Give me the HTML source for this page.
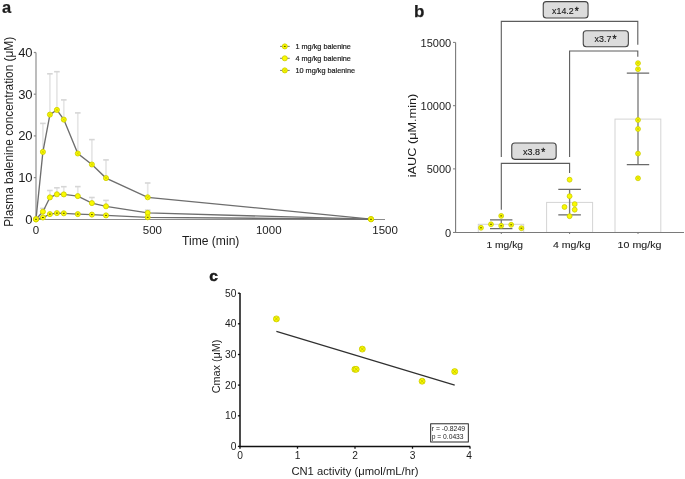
<!DOCTYPE html>
<html><head><meta charset="utf-8"><style>
html,body{margin:0;padding:0;background:#fff;width:685px;height:479px;overflow:hidden}
svg{display:block;will-change:transform}

text{font-family:"Liberation Sans", sans-serif;fill:#1c1c1c}
</style></head><body>
<svg width="685" height="479" viewBox="0 0 685 479">
<path d="M42.9 151.9V123.4" stroke="#e6e6e6" stroke-width="1.7" fill="none"/>
<path d="M40.1 123.4H45.7" stroke="#d6d6d6" stroke-width="1.6" fill="none"/>
<path d="M49.9 114.6V73.8" stroke="#e6e6e6" stroke-width="1.7" fill="none"/>
<path d="M47.1 73.8H52.7" stroke="#d6d6d6" stroke-width="1.6" fill="none"/>
<path d="M56.9 109.9V71.7" stroke="#e6e6e6" stroke-width="1.7" fill="none"/>
<path d="M54.1 71.7H59.7" stroke="#d6d6d6" stroke-width="1.6" fill="none"/>
<path d="M63.8 119.6V99.9" stroke="#e6e6e6" stroke-width="1.7" fill="none"/>
<path d="M61.0 99.9H66.6" stroke="#d6d6d6" stroke-width="1.6" fill="none"/>
<path d="M77.8 153.5V112.9" stroke="#e6e6e6" stroke-width="1.7" fill="none"/>
<path d="M75.0 112.9H80.6" stroke="#d6d6d6" stroke-width="1.6" fill="none"/>
<path d="M91.9 164.5V139.6" stroke="#e6e6e6" stroke-width="1.7" fill="none"/>
<path d="M89.1 139.6H94.7" stroke="#d6d6d6" stroke-width="1.6" fill="none"/>
<path d="M106 178.1V159.9" stroke="#e6e6e6" stroke-width="1.7" fill="none"/>
<path d="M103.2 159.9H108.8" stroke="#d6d6d6" stroke-width="1.6" fill="none"/>
<path d="M147.7 197.3V183.0" stroke="#e6e6e6" stroke-width="1.7" fill="none"/>
<path d="M144.9 183.0H150.5" stroke="#d6d6d6" stroke-width="1.6" fill="none"/>
<path d="M42.9 211.7V208.4" stroke="#e6e6e6" stroke-width="1.7" fill="none"/>
<path d="M40.1 208.4H45.7" stroke="#d6d6d6" stroke-width="1.6" fill="none"/>
<path d="M49.9 197.4V190.5" stroke="#e6e6e6" stroke-width="1.7" fill="none"/>
<path d="M47.1 190.5H52.7" stroke="#d6d6d6" stroke-width="1.6" fill="none"/>
<path d="M56.9 194.3V187.8" stroke="#e6e6e6" stroke-width="1.7" fill="none"/>
<path d="M54.1 187.8H59.7" stroke="#d6d6d6" stroke-width="1.6" fill="none"/>
<path d="M63.8 194.4V186.7" stroke="#e6e6e6" stroke-width="1.7" fill="none"/>
<path d="M61.0 186.7H66.6" stroke="#d6d6d6" stroke-width="1.6" fill="none"/>
<path d="M77.8 196.1V186.6" stroke="#e6e6e6" stroke-width="1.7" fill="none"/>
<path d="M75.0 186.6H80.6" stroke="#d6d6d6" stroke-width="1.6" fill="none"/>
<path d="M91.9 203.1V197.5" stroke="#e6e6e6" stroke-width="1.7" fill="none"/>
<path d="M89.1 197.5H94.7" stroke="#d6d6d6" stroke-width="1.6" fill="none"/>
<path d="M106 206.3V200.4" stroke="#e6e6e6" stroke-width="1.7" fill="none"/>
<path d="M103.2 200.4H108.8" stroke="#d6d6d6" stroke-width="1.6" fill="none"/>
<path d="M147.7 212.9V210.2" stroke="#e6e6e6" stroke-width="1.7" fill="none"/>
<path d="M144.9 210.2H150.5" stroke="#d6d6d6" stroke-width="1.6" fill="none"/>
<path d="M36 52.5V219.4" stroke="#acacac" stroke-width="1.6" fill="none"/>
<path d="M35.3 219.5H385" stroke="#8c8c8c" stroke-width="1.2" fill="none"/>
<path d="M33.8 52.5H36" stroke="#8c8c8c" stroke-width="1.25"/>
<text x="32.6" y="57.0" font-size="13" text-anchor="end">40</text>
<path d="M33.8 94.2H36" stroke="#8c8c8c" stroke-width="1.25"/>
<text x="32.6" y="98.7" font-size="13" text-anchor="end">30</text>
<path d="M33.8 135.9H36" stroke="#8c8c8c" stroke-width="1.25"/>
<text x="32.6" y="140.4" font-size="13" text-anchor="end">20</text>
<path d="M33.8 177.6H36" stroke="#8c8c8c" stroke-width="1.25"/>
<text x="32.6" y="182.1" font-size="13" text-anchor="end">10</text>
<path d="M33.8 219.4H36" stroke="#8c8c8c" stroke-width="1.25"/>
<text x="32.6" y="223.9" font-size="13" text-anchor="end">0</text>
<text x="36.05" y="233.6" font-size="11.5" text-anchor="middle">0</text>
<text x="152.4" y="233.6" font-size="11.5" text-anchor="middle">500</text>
<text x="268.75" y="233.6" font-size="11.5" text-anchor="middle">1000</text>
<text x="385.1" y="233.6" font-size="11.5" text-anchor="middle">1500</text>
<text x="182" y="244.6" font-size="12" textLength="57.4" lengthAdjust="spacingAndGlyphs">Time (min)</text>
<text transform="translate(12.6 131.8) rotate(-90)" text-anchor="middle" font-size="12" textLength="190" lengthAdjust="spacingAndGlyphs">Plasma balenine concentration (μM)</text>
<polyline points="36,219.3 42.9,151.9 49.9,114.6 56.9,109.9 63.8,119.6 77.8,153.5 91.9,164.5 106,178.1 147.7,197.3 371,219.1" fill="none" stroke="#6e6e6e" stroke-width="1.35"/>
<polyline points="36,219.3 42.9,211.7 49.9,197.4 56.9,194.3 63.8,194.4 77.8,196.1 91.9,203.1 106,206.3 147.7,212.9 371,219.2" fill="none" stroke="#6e6e6e" stroke-width="1.35"/>
<polyline points="36,219.3 42.9,217.5 49.9,214.1 56.9,213.1 63.8,213.3 77.8,214.1 91.9,214.6 106,215.4 147.7,217.3 371,219.3" fill="none" stroke="#6e6e6e" stroke-width="1.35"/>
<circle cx="36" cy="219.3" r="2.55" fill="#fafa00" stroke="#cccc00" stroke-width="0.8"/><path d="M34.8 218.1L37.2 220.5M34.8 220.5L37.2 218.1" stroke="#c4c400" stroke-width="0.6"/>
<circle cx="42.9" cy="151.9" r="2.55" fill="#fafa00" stroke="#cccc00" stroke-width="0.8"/><path d="M41.7 150.7L44.1 153.1M41.7 153.1L44.1 150.7" stroke="#c4c400" stroke-width="0.6"/>
<circle cx="49.9" cy="114.6" r="2.55" fill="#fafa00" stroke="#cccc00" stroke-width="0.8"/><path d="M48.7 113.4L51.1 115.8M48.7 115.8L51.1 113.4" stroke="#c4c400" stroke-width="0.6"/>
<circle cx="56.9" cy="109.9" r="2.55" fill="#fafa00" stroke="#cccc00" stroke-width="0.8"/><path d="M55.7 108.7L58.1 111.1M55.7 111.1L58.1 108.7" stroke="#c4c400" stroke-width="0.6"/>
<circle cx="63.8" cy="119.6" r="2.55" fill="#fafa00" stroke="#cccc00" stroke-width="0.8"/><path d="M62.6 118.4L65.0 120.8M62.6 120.8L65.0 118.4" stroke="#c4c400" stroke-width="0.6"/>
<circle cx="77.8" cy="153.5" r="2.55" fill="#fafa00" stroke="#cccc00" stroke-width="0.8"/><path d="M76.6 152.3L79.0 154.7M76.6 154.7L79.0 152.3" stroke="#c4c400" stroke-width="0.6"/>
<circle cx="91.9" cy="164.5" r="2.55" fill="#fafa00" stroke="#cccc00" stroke-width="0.8"/><path d="M90.7 163.3L93.1 165.7M90.7 165.7L93.1 163.3" stroke="#c4c400" stroke-width="0.6"/>
<circle cx="106" cy="178.1" r="2.55" fill="#fafa00" stroke="#cccc00" stroke-width="0.8"/><path d="M104.8 176.9L107.2 179.3M104.8 179.3L107.2 176.9" stroke="#c4c400" stroke-width="0.6"/>
<circle cx="147.7" cy="197.3" r="2.55" fill="#fafa00" stroke="#cccc00" stroke-width="0.8"/><path d="M146.5 196.1L148.9 198.5M146.5 198.5L148.9 196.1" stroke="#c4c400" stroke-width="0.6"/>
<circle cx="371" cy="219.1" r="2.55" fill="#fafa00" stroke="#cccc00" stroke-width="0.8"/><path d="M369.8 217.9L372.2 220.3M369.8 220.3L372.2 217.9" stroke="#c4c400" stroke-width="0.6"/>
<circle cx="36" cy="219.3" r="2.55" fill="#fafa00" stroke="#cccc00" stroke-width="0.8"/>
<circle cx="42.9" cy="211.7" r="2.55" fill="#fafa00" stroke="#cccc00" stroke-width="0.8"/>
<circle cx="49.9" cy="197.4" r="2.55" fill="#fafa00" stroke="#cccc00" stroke-width="0.8"/>
<circle cx="56.9" cy="194.3" r="2.55" fill="#fafa00" stroke="#cccc00" stroke-width="0.8"/>
<circle cx="63.8" cy="194.4" r="2.55" fill="#fafa00" stroke="#cccc00" stroke-width="0.8"/>
<circle cx="77.8" cy="196.1" r="2.55" fill="#fafa00" stroke="#cccc00" stroke-width="0.8"/>
<circle cx="91.9" cy="203.1" r="2.55" fill="#fafa00" stroke="#cccc00" stroke-width="0.8"/>
<circle cx="106" cy="206.3" r="2.55" fill="#fafa00" stroke="#cccc00" stroke-width="0.8"/>
<circle cx="147.7" cy="212.9" r="2.55" fill="#fafa00" stroke="#cccc00" stroke-width="0.8"/>
<circle cx="371" cy="219.2" r="2.55" fill="#fafa00" stroke="#cccc00" stroke-width="0.8"/>
<circle cx="36" cy="219.3" r="2.55" fill="#fafa00" stroke="#cccc00" stroke-width="0.8"/><path d="M35.1 219.3H36.9" stroke="#404000" stroke-width="0.9"/>
<circle cx="42.9" cy="217.5" r="2.55" fill="#fafa00" stroke="#cccc00" stroke-width="0.8"/><path d="M42.0 217.5H43.8" stroke="#404000" stroke-width="0.9"/>
<circle cx="49.9" cy="214.1" r="2.55" fill="#fafa00" stroke="#cccc00" stroke-width="0.8"/><path d="M49.0 214.1H50.8" stroke="#404000" stroke-width="0.9"/>
<circle cx="56.9" cy="213.1" r="2.55" fill="#fafa00" stroke="#cccc00" stroke-width="0.8"/><path d="M56.0 213.1H57.8" stroke="#404000" stroke-width="0.9"/>
<circle cx="63.8" cy="213.3" r="2.55" fill="#fafa00" stroke="#cccc00" stroke-width="0.8"/><path d="M62.9 213.3H64.7" stroke="#404000" stroke-width="0.9"/>
<circle cx="77.8" cy="214.1" r="2.55" fill="#fafa00" stroke="#cccc00" stroke-width="0.8"/><path d="M76.9 214.1H78.7" stroke="#404000" stroke-width="0.9"/>
<circle cx="91.9" cy="214.6" r="2.55" fill="#fafa00" stroke="#cccc00" stroke-width="0.8"/><path d="M91.0 214.6H92.8" stroke="#404000" stroke-width="0.9"/>
<circle cx="106" cy="215.4" r="2.55" fill="#fafa00" stroke="#cccc00" stroke-width="0.8"/><path d="M105.1 215.4H106.9" stroke="#404000" stroke-width="0.9"/>
<circle cx="147.7" cy="217.3" r="2.55" fill="#fafa00" stroke="#cccc00" stroke-width="0.8"/><path d="M146.8 217.3H148.6" stroke="#404000" stroke-width="0.9"/>
<circle cx="371" cy="219.3" r="2.55" fill="#fafa00" stroke="#cccc00" stroke-width="0.8"/><path d="M370.1 219.3H371.9" stroke="#404000" stroke-width="0.9"/>
<path d="M280.1 46.4H289.7" stroke="#555" stroke-width="0.8"/>
<circle cx="284.8" cy="46.4" r="2.55" fill="#fafa00" stroke="#cccc00" stroke-width="0.8"/><path d="M283.9 46.4H285.7" stroke="#404000" stroke-width="0.9"/>
<text x="295.5" y="49.0" font-size="7.2" textLength="55.4" lengthAdjust="spacingAndGlyphs" stroke="#1c1c1c" stroke-width="0.2">1 mg/kg balenine</text>
<path d="M280.1 58.3H289.7" stroke="#555" stroke-width="0.8"/>
<circle cx="284.8" cy="58.3" r="2.55" fill="#fafa00" stroke="#cccc00" stroke-width="0.8"/>
<text x="295.5" y="60.9" font-size="7.2" textLength="55.4" lengthAdjust="spacingAndGlyphs" stroke="#1c1c1c" stroke-width="0.2">4 mg/kg balenine</text>
<path d="M280.1 70.4H289.7" stroke="#555" stroke-width="0.8"/>
<circle cx="284.8" cy="70.4" r="2.55" fill="#fafa00" stroke="#cccc00" stroke-width="0.8"/><path d="M283.6 69.2L286.0 71.6M283.6 71.6L286.0 69.2" stroke="#c4c400" stroke-width="0.6"/>
<text x="295.5" y="73.0" font-size="7.2" textLength="59.5" lengthAdjust="spacingAndGlyphs" stroke="#1c1c1c" stroke-width="0.2">10 mg/kg balenine</text>
<text x="1.9" y="12.6" font-size="16.5" font-weight="bold" stroke="#1c1c1c" stroke-width="0.2">a</text>
<text x="413.9" y="16.6" font-size="17" font-weight="bold" stroke="#1c1c1c" stroke-width="0.25">b</text>
<rect x="478.3" y="224.3" width="45.4" height="8.1" fill="#fff" stroke="#d4d4d4" stroke-width="1"/>
<rect x="546.6" y="202.4" width="46.0" height="30.0" fill="#fff" stroke="#d4d4d4" stroke-width="1"/>
<rect x="615" y="119.1" width="45.8" height="113.3" fill="#fff" stroke="#d4d4d4" stroke-width="1"/>
<path d="M455.6 42.4V232.45H684" stroke="#7a7a7a" stroke-width="1.1" fill="none"/>
<path d="M501.3 232.45V234" stroke="#7a7a7a" stroke-width="1"/>
<path d="M569.6 232.45V234" stroke="#7a7a7a" stroke-width="1"/>
<path d="M638 232.45V234" stroke="#7a7a7a" stroke-width="1"/>
<path d="M453 42.4H455.6" stroke="#7a7a7a" stroke-width="1"/>
<text x="451.2" y="46.9" font-size="11" text-anchor="end">15000</text>
<path d="M453 105.7H455.6" stroke="#7a7a7a" stroke-width="1"/>
<text x="451.2" y="110.2" font-size="11" text-anchor="end">10000</text>
<path d="M453 168.9H455.6" stroke="#7a7a7a" stroke-width="1"/>
<text x="451.2" y="173.4" font-size="11" text-anchor="end">5000</text>
<path d="M453 232.45H455.6" stroke="#7a7a7a" stroke-width="1"/>
<text x="451.2" y="236.9" font-size="11" text-anchor="end">0</text>
<text transform="translate(415.6 135.5) rotate(-90)" text-anchor="middle" font-size="11" textLength="83.5" lengthAdjust="spacingAndGlyphs">iAUC (μM.min)</text>
<text x="486.5" y="248.2" font-size="9.8" textLength="36.5" lengthAdjust="spacingAndGlyphs" stroke="#1c1c1c" stroke-width="0.1">1 mg/kg</text>
<text x="553" y="248.2" font-size="9.8" textLength="37.5" lengthAdjust="spacingAndGlyphs" stroke="#1c1c1c" stroke-width="0.1">4 mg/kg</text>
<text x="617.6" y="248.2" font-size="9.8" textLength="43.8" lengthAdjust="spacingAndGlyphs" stroke="#1c1c1c" stroke-width="0.1">10 mg/kg</text>
<path d="M501.3 157V21.4H637.8V44.7" stroke="#5c5c5c" stroke-width="1.1" fill="none"/>
<path d="M569.6 157V51H637.8V56.8" stroke="#5c5c5c" stroke-width="1.1" fill="none"/>
<path d="M501.3 209.8V163.4H569.6V173" stroke="#5c5c5c" stroke-width="1.1" fill="none"/>
<rect x="543.25" y="1.65" width="44.8" height="16.4" rx="3" fill="#dcdcdc" stroke="#454545" stroke-width="1.1"/>
<text x="552.1" y="13.7" font-size="9.6" textLength="21.6" lengthAdjust="spacingAndGlyphs" stroke="#1c1c1c" stroke-width="0.15">x14.2</text>
<text x="574.8" y="15.0" font-size="10.3" stroke="#1c1c1c" stroke-width="0.3">*</text>
<rect x="583.25" y="30.75" width="45.1" height="16.0" rx="3" fill="#dcdcdc" stroke="#454545" stroke-width="1.1"/>
<text x="594.6" y="41.9" font-size="9.6" textLength="16.7" lengthAdjust="spacingAndGlyphs" stroke="#1c1c1c" stroke-width="0.15">x3.7</text>
<text x="612.4" y="43.2" font-size="10.3" stroke="#1c1c1c" stroke-width="0.3">*</text>
<rect x="511.75" y="142.95" width="44.4" height="16.4" rx="3" fill="#dcdcdc" stroke="#454545" stroke-width="1.1"/>
<text x="523.1" y="154.7" font-size="9.6" textLength="17" lengthAdjust="spacingAndGlyphs" stroke="#1c1c1c" stroke-width="0.15">x3.8</text>
<text x="541.2" y="156.0" font-size="10.3" stroke="#1c1c1c" stroke-width="0.3">*</text>
<path d="M501.3 219.9V228.6" stroke="#7c7c7c" stroke-width="1.35" fill="none"/>
<path d="M490 219.9H512.4M490 228.6H512.4" stroke="#6a6a6a" stroke-width="1.25" fill="none"/>
<path d="M569.6 189.3V214.8" stroke="#7c7c7c" stroke-width="1.35" fill="none"/>
<path d="M558.3 189.3H580.9M558.3 214.8H580.9" stroke="#6a6a6a" stroke-width="1.25" fill="none"/>
<path d="M638 73V164.5" stroke="#7c7c7c" stroke-width="1.35" fill="none"/>
<path d="M626.8 73H649.2M626.8 164.5H649.2" stroke="#6a6a6a" stroke-width="1.25" fill="none"/>
<circle cx="501.2" cy="215.9" r="2.45" fill="#fafa00" stroke="#cccc00" stroke-width="0.8"/><path d="M500.3 215.9H502.1" stroke="#404000" stroke-width="0.9"/>
<circle cx="491" cy="224.3" r="2.45" fill="#fafa00" stroke="#cccc00" stroke-width="0.8"/><path d="M490.1 224.3H491.9" stroke="#404000" stroke-width="0.9"/>
<circle cx="501.2" cy="225.8" r="2.45" fill="#fafa00" stroke="#cccc00" stroke-width="0.8"/><path d="M500.3 225.8H502.1" stroke="#404000" stroke-width="0.9"/>
<circle cx="511.2" cy="224.8" r="2.45" fill="#fafa00" stroke="#cccc00" stroke-width="0.8"/><path d="M510.3 224.8H512.1" stroke="#404000" stroke-width="0.9"/>
<circle cx="481" cy="227.8" r="2.45" fill="#fafa00" stroke="#cccc00" stroke-width="0.8"/><path d="M480.1 227.8H481.9" stroke="#404000" stroke-width="0.9"/>
<circle cx="521.4" cy="228.2" r="2.45" fill="#fafa00" stroke="#cccc00" stroke-width="0.8"/><path d="M520.5 228.2H522.3" stroke="#404000" stroke-width="0.9"/>
<circle cx="569.6" cy="179.7" r="2.45" fill="#fafa00" stroke="#cccc00" stroke-width="0.8"/>
<circle cx="569.6" cy="196.2" r="2.45" fill="#fafa00" stroke="#cccc00" stroke-width="0.8"/>
<circle cx="564.5" cy="207" r="2.45" fill="#fafa00" stroke="#cccc00" stroke-width="0.8"/>
<circle cx="574.7" cy="204.1" r="2.45" fill="#fafa00" stroke="#cccc00" stroke-width="0.8"/>
<circle cx="574.7" cy="209.7" r="2.45" fill="#fafa00" stroke="#cccc00" stroke-width="0.8"/>
<circle cx="569.6" cy="216.2" r="2.45" fill="#fafa00" stroke="#cccc00" stroke-width="0.8"/>
<circle cx="638" cy="63.2" r="2.45" fill="#fafa00" stroke="#cccc00" stroke-width="0.8"/><path d="M636.8 62.0L639.2 64.4M636.8 64.4L639.2 62.0" stroke="#c4c400" stroke-width="0.6"/>
<circle cx="638" cy="69.15" r="2.45" fill="#fafa00" stroke="#cccc00" stroke-width="0.8"/><path d="M636.8 67.95L639.2 70.35M636.8 70.35L639.2 67.95" stroke="#c4c400" stroke-width="0.6"/>
<circle cx="638" cy="120" r="2.45" fill="#fafa00" stroke="#cccc00" stroke-width="0.8"/><path d="M636.8 118.8L639.2 121.2M636.8 121.2L639.2 118.8" stroke="#c4c400" stroke-width="0.6"/>
<circle cx="638" cy="129" r="2.45" fill="#fafa00" stroke="#cccc00" stroke-width="0.8"/><path d="M636.8 127.8L639.2 130.2M636.8 130.2L639.2 127.8" stroke="#c4c400" stroke-width="0.6"/>
<circle cx="638" cy="153.6" r="2.45" fill="#fafa00" stroke="#cccc00" stroke-width="0.8"/><path d="M636.8 152.4L639.2 154.8M636.8 154.8L639.2 152.4" stroke="#c4c400" stroke-width="0.6"/>
<circle cx="638" cy="178.3" r="2.45" fill="#fafa00" stroke="#cccc00" stroke-width="0.8"/><path d="M636.8 177.1L639.2 179.5M636.8 179.5L639.2 177.1" stroke="#c4c400" stroke-width="0.6"/>
<text x="209.2" y="281.4" font-size="15.5" font-weight="bold" stroke="#1c1c1c" stroke-width="0.5">c</text>
<path d="M240 293V446.4H470.2" stroke="#111" stroke-width="1.5" fill="none"/>
<path d="M237.9 446.4H240" stroke="#111" stroke-width="1.3"/>
<text x="236.4" y="449.8" font-size="10.2" text-anchor="end">0</text>
<path d="M237.9 415.8H240" stroke="#111" stroke-width="1.3"/>
<text x="236.4" y="419.2" font-size="10.2" text-anchor="end">10</text>
<path d="M237.9 385.1H240" stroke="#111" stroke-width="1.3"/>
<text x="236.4" y="388.5" font-size="10.2" text-anchor="end">20</text>
<path d="M237.9 354.5H240" stroke="#111" stroke-width="1.3"/>
<text x="236.4" y="357.9" font-size="10.2" text-anchor="end">30</text>
<path d="M237.9 323.8H240" stroke="#111" stroke-width="1.3"/>
<text x="236.4" y="327.2" font-size="10.2" text-anchor="end">40</text>
<path d="M237.9 293.2H240" stroke="#111" stroke-width="1.3"/>
<text x="236.4" y="296.6" font-size="10.2" text-anchor="end">50</text>
<path d="M240.0 446.4V448.7" stroke="#111" stroke-width="1.3"/>
<text x="240.0" y="459.1" font-size="10.2" text-anchor="middle">0</text>
<path d="M297.5 446.4V448.7" stroke="#111" stroke-width="1.3"/>
<text x="297.5" y="459.1" font-size="10.2" text-anchor="middle">1</text>
<path d="M355.0 446.4V448.7" stroke="#111" stroke-width="1.3"/>
<text x="355.0" y="459.1" font-size="10.2" text-anchor="middle">2</text>
<path d="M412.5 446.4V448.7" stroke="#111" stroke-width="1.3"/>
<text x="412.5" y="459.1" font-size="10.2" text-anchor="middle">3</text>
<path d="M470.0 446.4V448.7" stroke="#111" stroke-width="1.3"/>
<text x="469.2" y="459.1" font-size="10.2" text-anchor="middle">4</text>
<text x="291.4" y="474.6" font-size="10.3" textLength="127" lengthAdjust="spacingAndGlyphs">CN1 activity (μmol/mL/hr)</text>
<text transform="translate(219.8 366.5) rotate(-90)" text-anchor="middle" font-size="10.6" textLength="53.6" lengthAdjust="spacingAndGlyphs">Cmax (μM)</text>
<path d="M276.4 331.4L454.7 385.1" stroke="#303030" stroke-width="1.15"/>
<circle cx="276.4" cy="318.9" r="3.0" fill="#fafa00" stroke="#cccc00" stroke-width="0.8"/><path d="M274.4 316.9L278.4 320.9M274.4 320.9L278.4 316.9" stroke="#b0b000" stroke-width="0.6"/>
<circle cx="362.3" cy="349.1" r="3.0" fill="#fafa00" stroke="#cccc00" stroke-width="0.8"/><path d="M360.3 347.1L364.3 351.1M360.3 351.1L364.3 347.1" stroke="#b0b000" stroke-width="0.6"/>
<circle cx="354.9" cy="369.3" r="3.0" fill="#fafa00" stroke="#cccc00" stroke-width="0.8"/><path d="M352.9 367.3L356.9 371.3M352.9 371.3L356.9 367.3" stroke="#b0b000" stroke-width="0.6"/>
<circle cx="356.2" cy="369.3" r="3.0" fill="#fafa00" stroke="#cccc00" stroke-width="0.8"/><path d="M354.2 367.3L358.2 371.3M354.2 371.3L358.2 367.3" stroke="#b0b000" stroke-width="0.6"/>
<circle cx="422.1" cy="381.2" r="3.0" fill="#fafa00" stroke="#cccc00" stroke-width="0.8"/><path d="M420.1 379.2L424.1 383.2M420.1 383.2L424.1 379.2" stroke="#b0b000" stroke-width="0.6"/>
<circle cx="454.7" cy="371.6" r="3.0" fill="#fafa00" stroke="#cccc00" stroke-width="0.8"/><path d="M452.7 369.6L456.7 373.6M452.7 373.6L456.7 369.6" stroke="#b0b000" stroke-width="0.6"/>
<rect x="430.7" y="423.8" width="37.6" height="18.2" fill="#fff" stroke="#111" stroke-width="0.9"/>
<text x="431.7" y="431.3" font-size="7" textLength="33.4" lengthAdjust="spacingAndGlyphs">r = -0.8249</text>
<text x="431.7" y="439.3" font-size="7" textLength="31.9" lengthAdjust="spacingAndGlyphs">p = 0.0433</text>
</svg>
</body></html>
